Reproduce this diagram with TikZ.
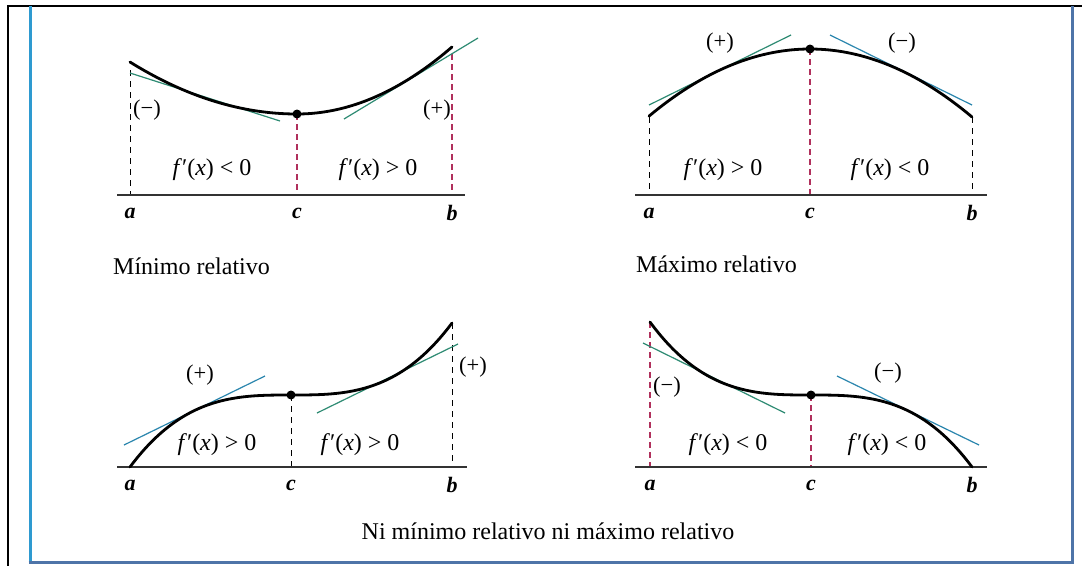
\documentclass[tikz,border=0pt]{standalone}
\usepackage{fontspec}
\setmainfont{Liberation Serif}
\definecolor{tgreen}{HTML}{2E8B73}
\definecolor{tblue}{HTML}{2B86AE}
\definecolor{crim}{HTML}{B0305C}
\definecolor{lblue}{HTML}{2E9AD0}
\definecolor{dblue}{HTML}{4E74A8}
\tikzset{
  curve/.style={line width=2.8pt, black, line cap=round},
  tangg/.style={line width=1.2pt, tgreen},
  tangb/.style={line width=1.2pt, tblue},
  rdash/.style={line width=2.2pt, crim, dash pattern=on 6pt off 4pt},
  kdash/.style={line width=0.9pt, black, dash pattern=on 6pt off 5pt},
  axisl/.style={line width=1.7pt, black!80},
  sgn/.style={font=\fontsize{22.5}{26}\selectfont, inner sep=0pt},
  fx/.style={font=\fontsize{24}{28}\selectfont, inner sep=0pt},
  ptl/.style={font=\fontsize{22}{26}\selectfont\bfseries\itshape, inner sep=0pt},
  ttl/.style={font=\fontsize{24}{28}\selectfont, inner sep=0pt},
  dotp/.style={circle, fill=black, inner sep=0pt, minimum size=9pt}
}
\newcommand{\fpos}{\textit{f}′(\textit{x}) > 0}
\newcommand{\fneg}{\textit{f}′(\textit{x}) < 0}
\begin{document}
\begin{tikzpicture}[x=1pt, y=-1pt]
\useasboundingbox (0,0) rectangle (1082,566);
\fill[white] (0,0) rectangle (1082,566);
% frame
\draw[line width=2.4pt] (1082,6) -- (8,6) -- (8,566);
\draw[line width=3pt, lblue] (30,6) -- (30,562);
\draw[line width=3pt, dblue] (28.5,562) -- (1073.5,562);
\draw[line width=3pt, dblue] (1072,6) -- (1072,562);

% ---------- Panel 1: minimo ----------
\coordinate (A1) at (130,62);
\coordinate (C1) at (297,114);
\coordinate (B1) at (452,47);
\coordinate (a1) at (130,195);
\coordinate (c1) at (297,195);
\coordinate (b1) at (452,195);
\coordinate (L1) at (117,195);
\coordinate (R1) at (465,195);
\coordinate (t1s) at (130,73);
\coordinate (t1e) at (280,121);
\coordinate (t2s) at (344,119);
\coordinate (t2e) at (478,38);
\draw[kdash] (130,70) -- (a1);
\draw[rdash] (C1) -- (c1);
\draw[rdash] (452,54) -- (b1);
\draw[axisl] (L1) -- (R1);
\draw[tangg] (t1s) -- (t1e);
\draw[tangg] (t2s) -- (t2e);
\draw[curve] plot[domain=130:297, samples=40, smooth] (\x, {114-18.64*((\x-297)/100)*((\x-297)/100)})
  -- plot[domain=297:452, samples=40, smooth] (\x, {114-27.9*((\x-297)/100)*((\x-297)/100)});
\node[dotp] (D1) at (C1) {};
\node[sgn] (s11) at (147,110) {(−)};
\node[sgn] (s12) at (437,110) {(+)};
\node[fx] (f11) at (212,170) {\fneg};
\node[fx] (f12) at (378,170) {\fpos};
\node[ptl] (la1) at (130,213) {a};
\node[ptl] (lc1) at (297,213) {c};
\node[ptl] (lb1) at (452,213) {b};
\node[ttl, anchor=west] (T1) at (113,266) {Mínimo relativo};

% ---------- Panel 2: maximo ----------
\coordinate (A2) at (649,117);
\coordinate (C2) at (810,49);
\coordinate (B2) at (972,117);
\coordinate (a2) at (649,195);
\coordinate (c2) at (810,195);
\coordinate (b2) at (972,195);
\coordinate (L2) at (635,195);
\coordinate (R2) at (987,195);
\coordinate (u1s) at (649,105);
\coordinate (u1e) at (791,35);
\coordinate (u2s) at (830,35);
\coordinate (u2e) at (972,105);
\draw[kdash] (A2) -- (a2);
\draw[rdash] (C2) -- (c2);
\draw[kdash] (B2) -- (b2);
\draw[axisl] (L2) -- (R2);
\draw[tangg] (u1s) -- (u1e);
\draw[tangb] (u2s) -- (u2e);
\draw[curve] plot[domain=649:972, samples=60, smooth] (\x, {49+25.9*((\x-810)/100)*((\x-810)/100)});
\node[dotp] (D2) at (C2) {};
\node[sgn] (s21) at (720,43) {(+)};
\node[sgn] (s22) at (902,43) {(−)};
\node[fx] (f21) at (723,170) {\fpos};
\node[fx] (f22) at (890,170) {\fneg};
\node[ptl] (la2) at (649,213) {a};
\node[ptl] (lc2) at (810,213) {c};
\node[ptl] (lb2) at (972,213) {b};
\node[ttl, anchor=west] (T2) at (636,264) {Máximo relativo};

% ---------- Panel 3: creciente ----------
\coordinate (A3) at (130,467);
\coordinate (C3) at (291,395);
\coordinate (B3) at (452,323);
\coordinate (a3) at (130,467);
\coordinate (c3) at (291,467);
\coordinate (b3) at (452,467);
\coordinate (L3) at (117,467);
\coordinate (R3) at (467,467);
\coordinate (v1s) at (124,445);
\coordinate (v1e) at (265,376);
\coordinate (v2s) at (317,413);
\coordinate (v2e) at (458,344);
\draw[kdash] (C3) -- (c3);
\draw[kdash] (B3) -- (b3);
\draw[axisl] (L3) -- (R3);
\draw[tangb] (v1s) -- (v1e);
\draw[tangg] (v2s) -- (v2e);
\draw[curve] plot[domain=130:291, samples=40, smooth] (\x, {395+17.25*((291-\x)/100)*((291-\x)/100)*((291-\x)/100)})
  -- plot[domain=291:452, samples=40, smooth] (\x, {395-17.25*((\x-291)/100)*((\x-291)/100)*((\x-291)/100)});
\node[dotp] (D3) at (C3) {};
\node[sgn] (s31) at (200,375) {(+)};
\node[sgn] (s32) at (473,367) {(+)};
\node[fx] (f31) at (217,445) {\fpos};
\node[fx] (f32) at (360,445) {\fpos};
\node[ptl] (la3) at (130,485) {a};
\node[ptl] (lc3) at (291,485) {c};
\node[ptl] (lb3) at (452,485) {b};

% ---------- Panel 4: decreciente ----------
\coordinate (A4) at (650,322);
\coordinate (C4) at (811,395);
\coordinate (B4) at (972,467);
\coordinate (a4) at (650,467);
\coordinate (c4) at (811,467);
\coordinate (b4) at (972,467);
\coordinate (L4) at (635,467);
\coordinate (R4) at (987,467);
\coordinate (w1s) at (643,343);
\coordinate (w1e) at (785,413);
\coordinate (w2s) at (837,376);
\coordinate (w2e) at (979,445);
\draw[rdash] (A4) -- (a4);
\draw[rdash] (C4) -- (c4);
\draw[axisl] (L4) -- (R4);
\draw[tangg] (w1s) -- (w1e);
\draw[tangb] (w2s) -- (w2e);
\draw[curve] plot[domain=650:811, samples=40, smooth] (\x, {395-17.49*((811-\x)/100)*((811-\x)/100)*((811-\x)/100)})
  -- plot[domain=811:972, samples=40, smooth] (\x, {395+17.25*((\x-811)/100)*((\x-811)/100)*((\x-811)/100)});
\node[dotp] (D4) at (C4) {};
\node[sgn] (s41) at (667,387) {(−)};
\node[sgn] (s42) at (888,373) {(−)};
\node[fx] (f41) at (728,445) {\fneg};
\node[fx] (f42) at (887,445) {\fneg};
\node[ptl] (la4) at (650,485) {a};
\node[ptl] (lc4) at (811,485) {c};
\node[ptl] (lb4) at (972,485) {b};

\node[ttl] (T3) at (548,531) {Ni mínimo relativo ni máximo relativo};
\end{tikzpicture}
\end{document}
